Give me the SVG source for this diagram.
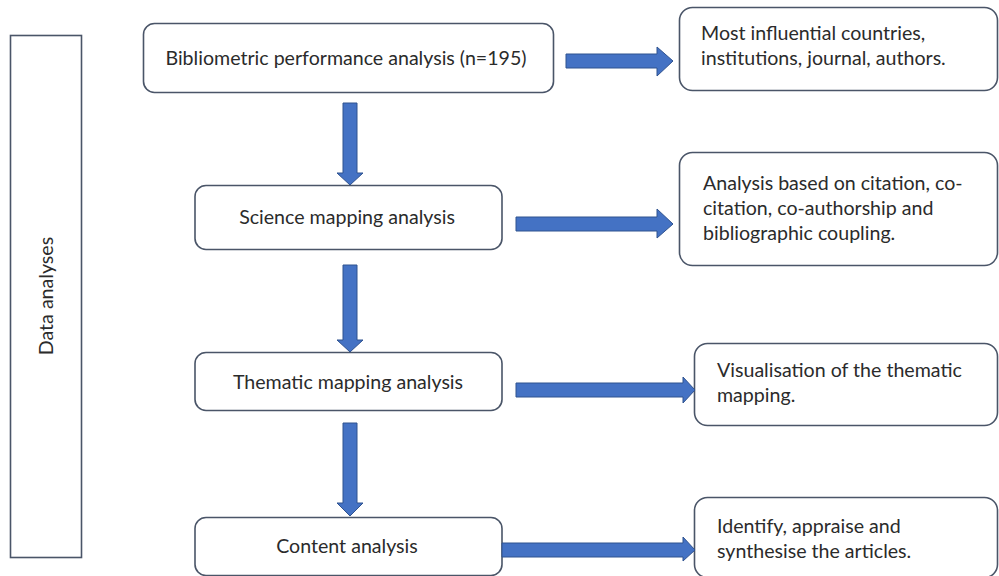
<svg xmlns="http://www.w3.org/2000/svg" width="999" height="576" viewBox="0 0 999 576">
<style>
.box{fill:#fff;stroke:#4a5568;stroke-width:1.6}
.t{font-family:Lato,"Liberation Sans",sans-serif;font-size:19.6px;fill:#2b2b2b}
.c{text-anchor:middle}
.arr{fill:#4472c4;stroke:#2f528f;stroke-width:1}
</style>
<rect width="999" height="576" fill="#fff"/>
<g id="data-analyses">
<rect class="box" x="10.5" y="35.5" width="71" height="522"/>
<text class="t c" transform="translate(53,296) rotate(-90)">Data analyses</text>
</g>
<g id="bibliometric">
<rect class="box" x="143.5" y="23.5" width="410" height="69" rx="11"/>
<text class="t c" x="346" y="65">Bibliometric performance analysis (n=195)</text>
</g>
<g id="science">
<rect class="box" x="195" y="185.5" width="307" height="64" rx="11"/>
<text class="t c" x="347" y="224">Science mapping analysis</text>
</g>
<g id="thematic">
<rect class="box" x="195" y="352.5" width="307" height="58" rx="11"/>
<text class="t c" x="348" y="389">Thematic mapping analysis</text>
</g>
<g id="content">
<rect class="box" x="195" y="517.5" width="307" height="58" rx="11"/>
<text class="t c" x="347" y="553">Content analysis</text>
</g>
<g id="influential">
<rect class="box" x="679.5" y="7.5" width="318" height="83" rx="13"/>
<text class="t" x="701" y="40">Most influential countries,</text>
<text class="t" x="701" y="65">institutions, journal, authors.</text>
</g>
<g id="citation">
<rect class="box" x="679.5" y="152.5" width="318" height="113" rx="13"/>
<text class="t" x="703" y="190">Analysis based on citation, co-</text>
<text class="t" x="703" y="215">citation, co-authorship and</text>
<text class="t" x="703" y="240">bibliographic coupling.</text>
</g>
<g id="visualisation">
<rect class="box" x="694.5" y="343.5" width="303" height="82" rx="13"/>
<text class="t" x="717" y="377">Visualisation of the thematic</text>
<text class="t" x="717" y="402">mapping.</text>
</g>
<g id="identify">
<rect class="box" x="694.5" y="497.5" width="303" height="80" rx="13"/>
<text class="t" x="717" y="533">Identify, appraise and</text>
<text class="t" x="717" y="558">synthesise the articles.</text>
</g>
<g id="connectors">
<path class="arr" d="M343,103 H357 V173 H363 L350,185 L337,173 H343 Z"/>
<path class="arr" d="M343,265 H357 V340 H363 L350,352 L337,340 H343 Z"/>
<path class="arr" d="M343,423 H357 V503 H363 L350,516 L337,503 H343 Z"/>
<path class="arr" d="M566,54 H657 V47 L673,61 L657,76 V68 H566 Z"/>
<path class="arr" d="M516,217 H657 V209 L673,224 L657,238 V231 H516 Z"/>
<path class="arr" d="M516,383 H683 V377 L695,390 L683,403 V397 H516 Z"/>
<path class="arr" d="M502,543 H683 V537 L695,550 L683,561 V557 H502 Z"/>
</g>
</svg>
